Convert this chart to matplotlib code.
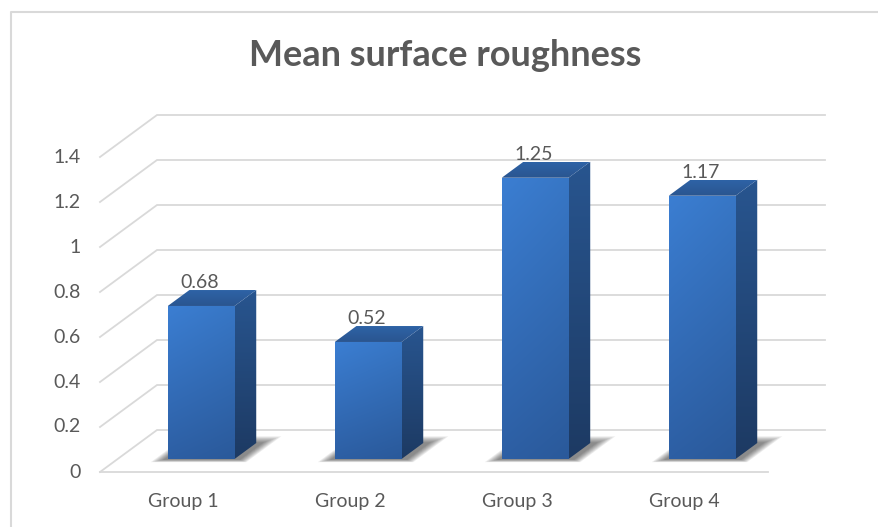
import numpy as np
import matplotlib.pyplot as plt
from matplotlib.patches import Polygon
from matplotlib.lines import Line2D
from matplotlib.colors import to_rgb

categories = ['Group 1', 'Group 2', 'Group 3', 'Group 4']
values = [0.68, 0.52, 1.25, 1.17]
yticks = [0, 0.2, 0.4, 0.6, 0.8, 1, 1.2, 1.4]
ytick_labels = ['0', '0.2', '0.4', '0.6', '0.8', '1', '1.2', '1.4']
title = 'Mean surface roughness'

# oblique projection: depth z (0..1) moves a point right and up
DX = 57 / 167
DY = 42 / 225
BAR_W = 0.40
Z0, Z1 = 0.31, 0.69

TXT = '#595959'
GRID = '#d9d9d9'
FONT = 'Lato'


def proj(x, y, z):
    return (x + z * DX, y + z * DY)


def grad_face(ax, pts, c_top, c_bot, zorder, hshade=0.0):
    poly = Polygon(pts, closed=True, facecolor='none', edgecolor='none', zorder=zorder)
    ax.add_patch(poly)
    xs = [p[0] for p in pts]
    ys = [p[1] for p in pts]
    t = np.linspace(0, 1, 80)[:, None, None]
    s = np.linspace(0, 1, 40)[None, :, None]
    top = np.array(to_rgb(c_top))
    bot = np.array(to_rgb(c_bot))
    img = top * (1 - t) + bot * t
    img = img * (1 - hshade * s)
    img = np.clip(img, 0, 1)
    im = ax.imshow(img, extent=(min(xs), max(xs), min(ys), max(ys)),
                   origin='upper', aspect='auto', zorder=zorder, interpolation='bilinear')
    im.set_clip_path(poly)


def main():
    fig = plt.figure(figsize=(8.79, 5.27), dpi=100)
    ax = fig.add_axes([0, 0, 1, 1])
    n = len(categories)

    # walls: back wall + left side wall gridlines
    for t in yticks:
        p0 = proj(0, t, 0)
        p1 = proj(0, t, 1)
        p2 = proj(n, t, 1)
        ax.plot([p0[0], p1[0], p2[0]], [p0[1], p1[1], p2[1]], color=GRID, lw=1.3,
                solid_joinstyle='miter', zorder=1)
    f0 = proj(0, 0, 0)
    f1 = proj(n, 0, 0)
    ax.plot([f0[0], f1[0]], [f0[1], f1[1]], color=GRID, lw=1.3, zorder=1)

    for i, v in enumerate(values):
        c = i + 0.5
        xl, xr = c - BAR_W / 2, c + BAR_W / 2

        # soft floor shadow, mostly hidden behind the bar
        for k in range(8):
            e = 0.008 * k
            ez = 0.02 * k
            pts = [proj(xl - 0.02 - e, 0, Z0 - 0.02 - ez * 0.4),
                   proj(xr + 0.04 + e, 0, Z0 - 0.02 - ez * 0.4),
                   proj(xr + 0.04 + e, 0, Z1 + 0.02 + ez),
                   proj(xl - 0.02 - e, 0, Z1 + 0.02 + ez)]
            ax.add_patch(Polygon(pts, closed=True, facecolor='black', edgecolor='none',
                                 alpha=0.07, zorder=2))

        front = [proj(xl, 0, Z0), proj(xr, 0, Z0), proj(xr, v, Z0), proj(xl, v, Z0)]
        side = [proj(xr, 0, Z0), proj(xr, 0, Z1), proj(xr, v, Z1), proj(xr, v, Z0)]
        top = [proj(xl, v, Z0), proj(xr, v, Z0), proj(xr, v, Z1), proj(xl, v, Z1)]
        grad_face(ax, front, '#3b7ed2', '#2d5fa4', 4, hshade=0.06)
        grad_face(ax, side, '#28558f', '#1d3a63', 4)
        grad_face(ax, top, '#2e63a6', '#2a5590', 4)

        lx, ly = proj(c, v, Z0)
        ax.text(lx - 0.01, v + Z1 * DY + 0.008, f'{v:g}', ha='center', va='baseline',
                fontsize=14, color=TXT, family=FONT, zorder=6)

        bx, _ = proj(c, 0, 0)
        ax.text(bx, -0.133, categories[i], ha='center', va='center',
                fontsize=14, color=TXT, family=FONT)

    for t, lab in zip(yticks, ytick_labels):
        ax.text(-0.114, t, lab, ha='right', va='center', fontsize=14, color=TXT, family=FONT)

    ax.text(2.066, 1.853, title, ha='center', va='center', fontsize=26,
            fontweight='bold', color=TXT, family=FONT)

    ax.set_xlim(-100 / 167, 779 / 167)
    ax.set_ylim(-55 / 225, 472 / 225)
    ax.axis('off')

    # chart frame (only top and left edges fall inside the picture)
    fig.add_artist(Line2D([11.5 / 879, 11.5 / 879, 1], [0, 1 - 12 / 527, 1 - 12 / 527],
                          transform=fig.transFigure, color=GRID, lw=1.5))

    fig.savefig('out.png', dpi=100)


if __name__ == '__main__':
    main()
